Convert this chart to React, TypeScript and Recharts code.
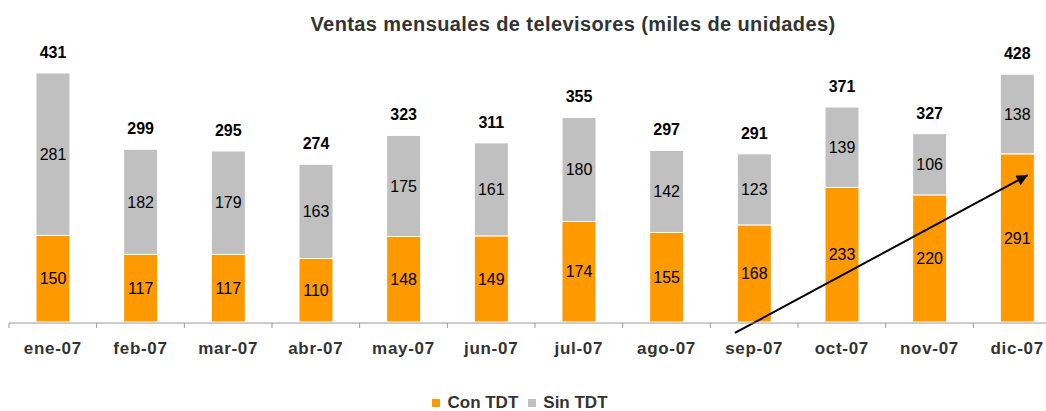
import React from "react";
import {
  BarChart,
  Bar,
  XAxis,
  YAxis,
  LabelList,
  ReferenceLine,
} from "recharts";

const FONT = '"Liberation Sans", Arial, sans-serif';

const months = [
  "ene-07", "feb-07", "mar-07", "abr-07", "may-07", "jun-07",
  "jul-07", "ago-07", "sep-07", "oct-07", "nov-07", "dic-07",
];
const conTdt = [150, 117, 117, 110, 148, 149, 174, 155, 168, 233, 220, 291];
const sinTdt = [281, 182, 179, 163, 175, 161, 180, 142, 123, 139, 106, 138];
const totals = [431, 299, 295, 274, 323, 311, 355, 297, 291, 371, 327, 428];

const seriesNames = ["Con TDT", "Sin TDT"];
const seriesColors = ["#FF9900", "#C0C0C0"];

// trend arrow, in (category slot, value) units
const trendArrow = [
  { x: 8.28, y: -19 },
  { x: 11.62, y: 254 },
];

const data = months.map((m, i) => ({
  month: m,
  slot: i + 0.5,
  con: conTdt[i],
  sin: sinTdt[i],
  total: totals[i],
}));

const slotTicks = [...months.map((_, i) => i), months.length];

function Arrow(props: any) {
  const { x1, y1, x2, y2 } = props;
  return (
    <line
      x1={x1}
      y1={y1}
      x2={x2}
      y2={y2}
      stroke="#000"
      strokeWidth={2}
      markerEnd="url(#trendHead)"
    />
  );
}

const NoLabel = () => <g />;

export default function App() {
  return (
    <div
      style={{
        position: "fixed",
        left: 0,
        top: 0,
        width: 1046,
        height: 411,
        overflow: "hidden",
        background: "#fff",
        fontFamily: FONT,
      }}
    >
      <svg width={0} height={0} style={{ position: "absolute" }}>
        <defs>
          <marker
            id="trendHead"
            viewBox="0 0 10 10"
            refX={10}
            refY={5}
            markerWidth={7.5}
            markerHeight={5.5}
            orient="auto"
          >
            <path d="M0,0 L10,5 L0,10 z" fill="#000" />
          </marker>
        </defs>
      </svg>

      <div
        style={{
          position: "absolute",
          left: 573 - 320,
          width: 640,
          top: 13,
          textAlign: "center",
          fontSize: 20,
          letterSpacing: 0.4,
          fontWeight: "bold",
          color: "#333",
        }}
      >
        Ventas mensuales de televisores (miles de unidades)
      </div>

      <div style={{ position: "absolute", left: 0, top: 0 }}>
        <BarChart
          width={1070}
          height={411}
          data={data}
          margin={{ top: 62, right: 9, left: 9, bottom: 0 }}
          style={{ fontFamily: FONT }}
        >
          {/* month labels: thin axis, labels hang below it */}
          <XAxis
            dataKey="month"
            height={1}
            axisLine={false}
            tickLine={false}
            tickSize={0}
            tickMargin={20}
            interval={0}
            tick={{ fontSize: 17, fontWeight: "bold", fill: "#333", letterSpacing: 0.7 }}
          />
          {/* baseline with ticks between the months */}
          <XAxis
            xAxisId="slots"
            dataKey="slot"
            type="number"
            domain={[0, months.length]}
            ticks={slotTicks}
            tick={NoLabel}
            height={88}
            tickSize={5}
            axisLine={{ stroke: "#9a9a9a" }}
            tickLine={{ stroke: "#9a9a9a" }}
            allowDataOverflow
          />
          <YAxis hide domain={[0, 450]} />
          <Bar
            dataKey="con"
            name={seriesNames[0]}
            stackId="a"
            fill={seriesColors[0]}
            stroke="#fff"
            strokeWidth={1}
            barSize={34}
            isAnimationActive={false}
          >
            <LabelList
              dataKey="con"
              position="center"
              fill="#000"
              fontSize={16}
            />
          </Bar>
          <Bar
            dataKey="sin"
            name={seriesNames[1]}
            stackId="a"
            fill={seriesColors[1]}
            stroke="#fff"
            strokeWidth={1}
            barSize={34}
            isAnimationActive={false}
          >
            <LabelList
              dataKey="sin"
              position="center"
              fill="#000"
              fontSize={16}
            />
            <LabelList
              dataKey="total"
              position="top"
              offset={15}
              fill="#000"
              fontSize={16}
              fontWeight="bold"
            />
          </Bar>
          <ReferenceLine
            xAxisId="slots"
            segment={trendArrow}
            ifOverflow="visible"
            shape={Arrow}
          />
        </BarChart>
      </div>

      <div
        style={{
          position: "absolute",
          left: 0,
          width: 1040,
          top: 394,
          display: "flex",
          justifyContent: "center",
          gap: 10,
          fontSize: 17,
          fontWeight: "bold",
          color: "#333",
          lineHeight: "18px",
        }}
      >
        {seriesNames.map((n, i) => (
          <span key={n} style={{ display: "flex", alignItems: "center" }}>
            <span
              style={{
                width: 8,
                height: 8,
                background: seriesColors[i],
                marginRight: 7,
                display: "inline-block",
              }}
            />
            {n}
          </span>
        ))}
      </div>
    </div>
  );
}
